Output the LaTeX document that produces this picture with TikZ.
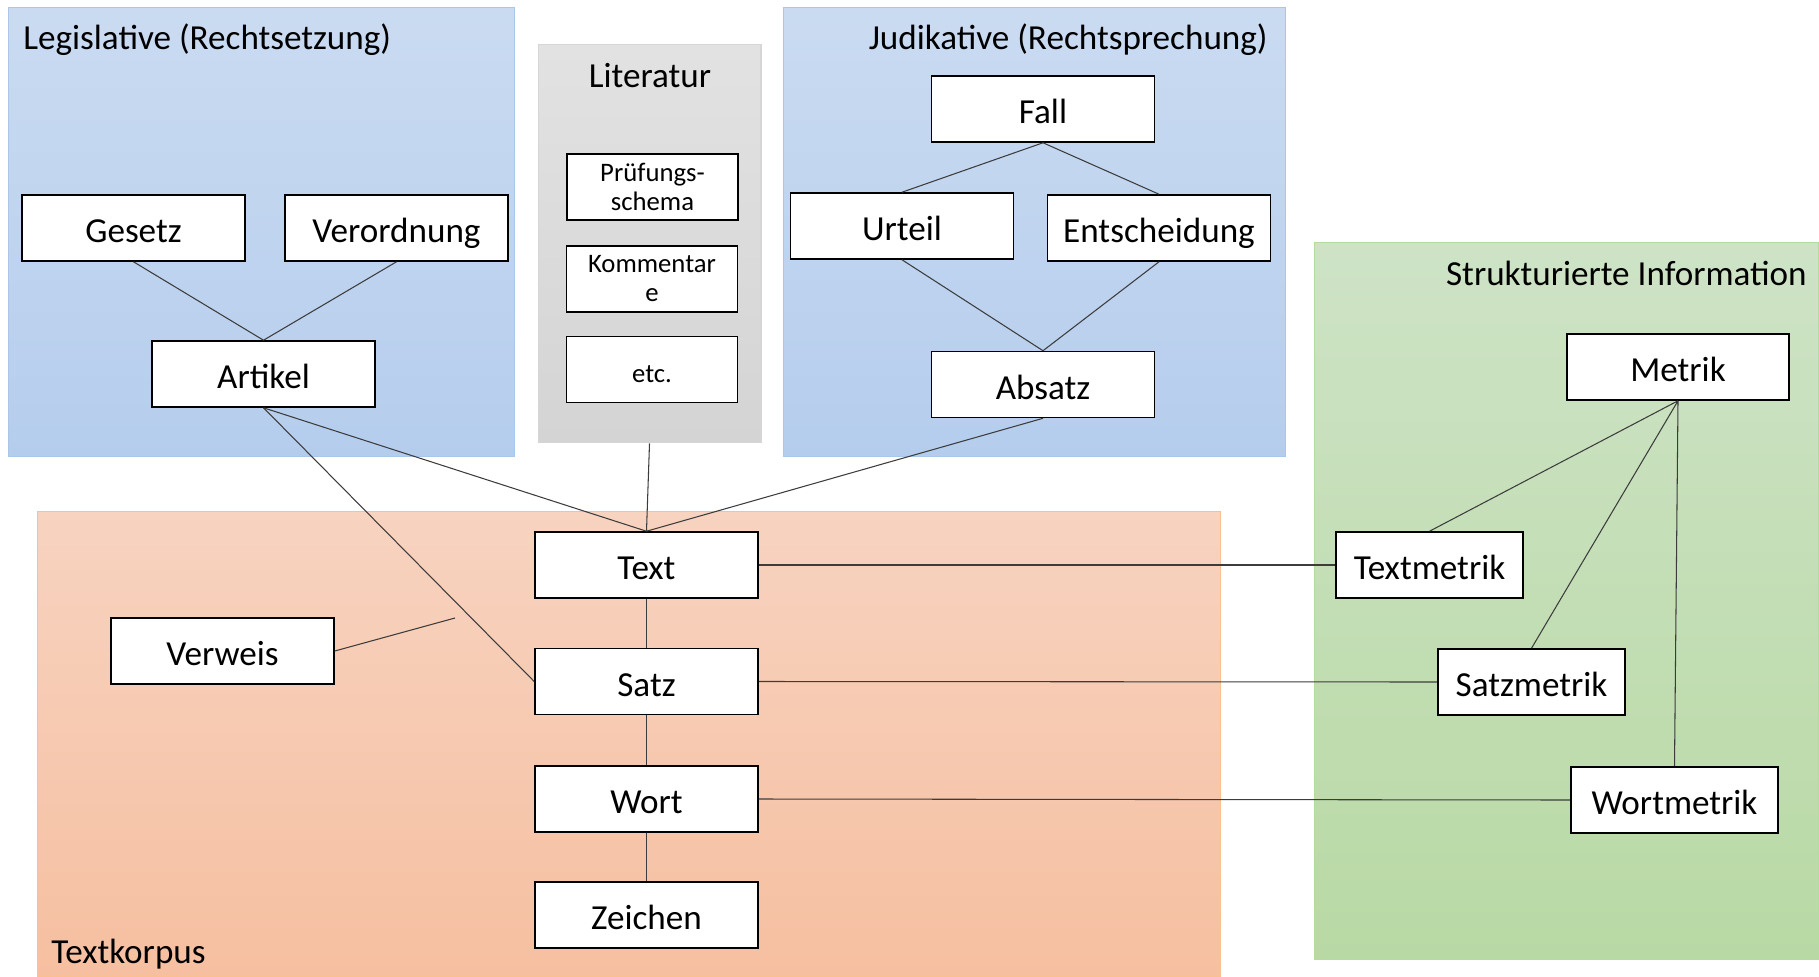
\documentclass[tikz,border=0pt]{standalone}
\usepackage{fontspec}
\setmainfont{Carlito}
\usetikzlibrary{math}
\definecolor{blueTop}{RGB}{202,219,241}
\definecolor{blueBot}{RGB}{181,205,237}
\definecolor{blueLine}{RGB}{170,198,234}
\definecolor{grayTop}{RGB}{226,226,226}
\definecolor{grayBot}{RGB}{212,212,212}
\definecolor{grayLine}{RGB}{214,214,214}
\definecolor{orangeTop}{RGB}{247,211,192}
\definecolor{orangeBot}{RGB}{246,191,160}
\definecolor{orangeLine}{RGB}{250,192,143}
\definecolor{greenTop}{RGB}{206,227,198}
\definecolor{greenBot}{RGB}{184,217,164}
\definecolor{greenLine}{RGB}{182,219,160}
\definecolor{linkgray}{RGB}{60,60,60}

\begin{document}
\begin{tikzpicture}[x=0.02cm, y=-0.02cm,
  panel/.style={inner sep=0pt, line width=0.6pt},
  plainbox/.style={draw, line width=0.9pt, fill=white, inner sep=0pt,
    minimum width=\bw cm, minimum height=\bh cm},
  box/.style={plainbox, text height=0.58cm, text depth=0cm, font=\fontsize{20}{24}\selectfont},
  smallbox/.style={plainbox, minimum width=3.42cm, align=center, font=\fontsize{15.2}{16.5}\selectfont},
  title/.style={inner sep=0pt, font=\fontsize{20}{24}\selectfont},
  link/.style={draw=linkgray, line width=0.6pt}]
\tikzmath{
\bw=4.46;
\bh=1.32;
}
\useasboundingbox (0,0) rectangle (1819,977);

\node[panel, draw=blueLine, top color=blueTop, bottom color=blueBot, minimum width=10.14cm, minimum height=9cm] (legis) at (261.5,232) {};
\node[panel, draw=grayLine, top color=grayTop, bottom color=grayBot, minimum width=4.46cm, minimum height=7.98cm] (lit) at (649.5,243.5) {};
\node[panel, draw=blueLine, top color=blueTop, bottom color=blueBot, minimum width=10.06cm, minimum height=9cm] (judik) at (1034.5,232) {};
\node[panel, draw=orangeLine, top color=orangeTop, bottom color=orangeBot, minimum width=23.68cm, minimum height=9.32cm] (korpus) at (629,744) {};
\node[panel, draw=greenLine, top color=greenTop, bottom color=greenBot, minimum width=10.1cm, minimum height=14.36cm] (info) at (1566.5,601) {};

\node[title, anchor=base west] at (23,50) {Legislative (Rechtsetzung)};
\node[title, anchor=base] at (650,87) {Literatur};
\node[title, anchor=base east] at (1268,50) {Judikative (Rechtsprechung)};
\node[title, anchor=base east] at (1807,285) {Strukturierte Information};
\node[title, anchor=base west] at (51,963) {Textkorpus};

\node[box] (gesetz) at (133.5,228) {Gesetz};
\node[box] (verordnung) at (396.5,228) {Verordnung};
\node[box] (artikel) at (263.5,374) {Artikel};

\node[smallbox] (pruefung) at (652.5,187) {Prüfungs-\\schema};
\node[smallbox] (kommentare) at (652,279) {Kommentar\\e};
\node[smallbox, text height=0.5cm, text depth=0cm] (etc) at (652,369.5) {etc.};

\node[box] (fall) at (1043,109) {Fall};
\node[box] (urteil) at (902,226) {Urteil};
\node[box] (entscheidung) at (1159,228) {Entscheidung};
\node[box] (absatz) at (1043,384.5) {Absatz};

\node[box] (text) at (646.5,565) {Text};
\node[box] (satz) at (646.5,681.5) {Satz};
\node[box] (wort) at (646.5,799) {Wort};
\node[box] (zeichen) at (646.5,915) {Zeichen};
\node[box] (verweis) at (222.5,651) {Verweis};
\coordinate (vend) at (455,618);

\node[box, minimum width=4.44cm] (metrik) at (1678,367) {Metrik};
\node[box, minimum width=3.74cm] (textmetrik) at (1429.5,565) {Textmetrik};
\node[box, minimum width=3.74cm] (satzmetrik) at (1531.5,682) {Satzmetrik};
\node[box, minimum width=4.14cm] (wortmetrik) at (1674.5,800) {Wortmetrik};

\draw[link] (gesetz.south) -- (artikel.north) (verordnung.south) -- (artikel.north);
\draw[link] (fall.south) -- (urteil.north) (fall.south) -- (entscheidung.north);
\draw[link] (urteil.south) -- (absatz.north) (entscheidung.south) -- (absatz.north);
\draw[link] (artikel.south) -- (text.north) (lit.south) -- (text.north) (absatz.south) -- (text.north);
\draw[link] (artikel.south) -- (satz.west);
\draw[link] (text) -- (satz) -- (wort) -- (zeichen);
\draw[link] (verweis.east) -- (vend);
\draw[link] (text.east) -- (textmetrik.west);
\draw[link] (satz.east) -- (satzmetrik.west);
\draw[link] (wort.east) -- (wortmetrik.west);
\draw[link] (metrik.south) -- (textmetrik.north) (metrik.south) -- (satzmetrik.north) (metrik.south) -- (wortmetrik.north);
\end{tikzpicture}
\end{document}
